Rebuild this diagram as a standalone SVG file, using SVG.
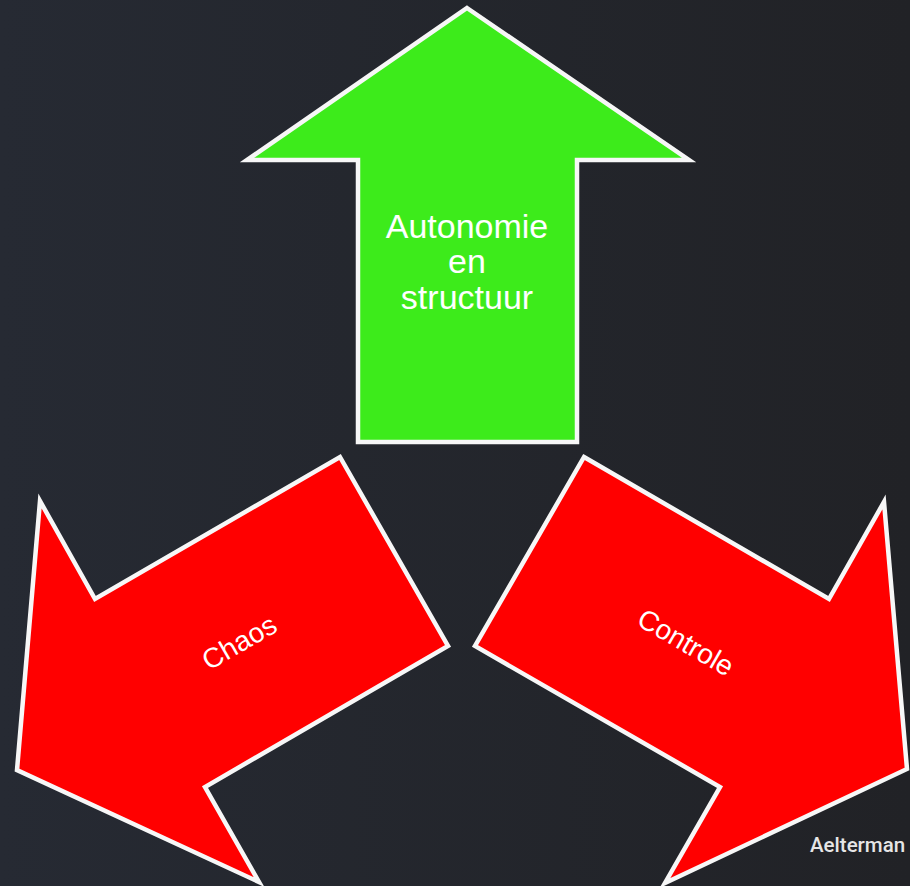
<svg xmlns="http://www.w3.org/2000/svg" width="910" height="886" viewBox="0 0 910 886">
<defs>
<linearGradient id="bg" x1="0" y1="0" x2="1" y2="0">
<stop offset="0" stop-color="#262a33"/>
<stop offset="1" stop-color="#212226"/>
</linearGradient>
</defs>
<style>
.arrow{stroke:#f7f7f7;stroke-width:4.5;stroke-linejoin:miter}
.green{fill:#3deb1b}
.red{fill:#ff0000}
.lbl{font-family:"Liberation Sans",Arial,sans-serif;fill:#ffffff;text-anchor:middle}
</style>
<rect width="910" height="886" fill="url(#bg)"/>
<g id="autonomie">
<polygon class="arrow green" points="467,8 689,160 577,160 577,442 358,442 358,160 247,160"/>
<text class="lbl" font-size="34" x="467" y="238">Autonomie</text>
<text class="lbl" font-size="34" x="467" y="273">en</text>
<text class="lbl" font-size="34" x="467" y="309">structuur</text>
</g>
<g id="chaos">
<polygon class="arrow red" points="340,457 448,646 205,787 259,882 17,770 40,501 95,599"/>
<text class="lbl" font-size="28" transform="translate(239,642) rotate(-30)" x="0" y="10">Chaos</text>
</g>
<g id="controle">
<polygon class="arrow red" points="584,457 829,599 884,502 907,769 665,883 720,787 475,646"/>
<text class="lbl" font-size="28" transform="translate(686,642) rotate(30)" x="0" y="10">Controle</text>
</g>
<g id="credit">
<text x="810" y="852" font-family="Roboto,'Liberation Sans',sans-serif" font-weight="500" font-size="20.5" fill="#e6e6e6">Aelterman</text>
</g>
<g id="connectors"/>
</svg>
